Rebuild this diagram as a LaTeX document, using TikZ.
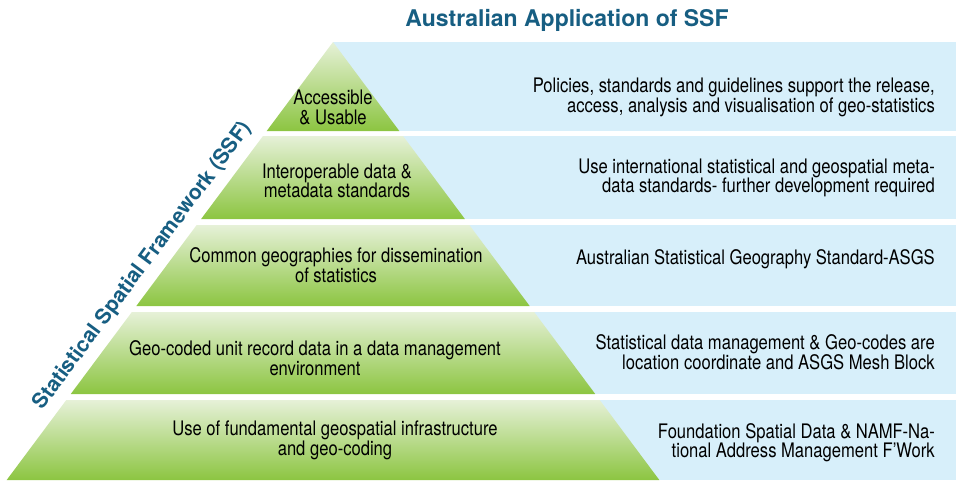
\documentclass[tikz,border=0pt]{standalone}
\usepackage{fontspec}
\setmainfont{TeX Gyre Heros}[FakeStretch=0.83]
\newfontfamily\headfont{TeX Gyre Heros}

\definecolor{ssfblue}{HTML}{D7EFFA}
\definecolor{ssfgreentop}{HTML}{E6F1D8}
\definecolor{ssfgreenbot}{HTML}{8CC541}
\definecolor{ssftitle}{HTML}{175E82}

% left and right edge of the pyramid at height #1
\newcommand{\pyrleft}[1]{333-0.745*(#1-42)}
\newcommand{\pyrright}[1]{333+0.745*(#1-42)}

\tikzset{
  band/.style={fill=ssfblue, draw=none},
  level/.style={top color=ssfgreentop, bottom color=ssfgreenbot, draw=none},
  leveltext/.style={align=center, inner sep=0pt, font=\fontsize{20}{19.5}\selectfont},
  bandtext/.style={align=right, anchor=east, inner sep=0pt, font=\fontsize{20}{19.5}\selectfont},
  headtext/.style={inner sep=0pt, text=ssftitle, font=\headfont\bfseries\fontsize{21}{24}\selectfont}
}

\begin{document}
\begin{tikzpicture}[x=1pt, y=-1pt]
        \useasboundingbox (0,0) rectangle (956,480);

        % blue bands
        \fill[band] (333,42)  rectangle (956,131);
        \fill[band] (333,136) rectangle (956,219);
        \fill[band] (333,225) rectangle (956,306);
        \fill[band] (333,312) rectangle (956,394);
        \fill[band] (333,400) rectangle (956,480);

        % pyramid levels
        \shade[level] (333,42) -- ({\pyrright{131}},131) -- ({\pyrleft{131}},131) -- cycle;
        \shade[level] ({\pyrleft{136}},136) -- ({\pyrright{136}},136) -- ({\pyrright{219}},219) -- ({\pyrleft{219}},219) -- cycle;
        \shade[level] ({\pyrleft{225}},225) -- ({\pyrright{225}},225) -- ({\pyrright{306}},306) -- ({\pyrleft{306}},306) -- cycle;
        \shade[level] ({\pyrleft{312}},312) -- ({\pyrright{312}},312) -- ({\pyrright{394}},394) -- ({\pyrleft{394}},394) -- cycle;
        \shade[level] ({\pyrleft{400}},400) -- ({\pyrright{400}},400) -- ({\pyrright{480}},480) -- ({\pyrleft{480}},480) -- cycle;

        \begin{scope}[every node/.style={leveltext}]
          \node (access)  at (333,107.5) {Accessible\\\& Usable};
          \node (interop) at (337,181)   {Interoperable data \&\\metadata standards};
          \node (geog)    at (336,265)   {Common geographies for dissemination\\of statistics};
          \node (unitrec) at (315,358)   {Geo-coded unit record data in a data management\\environment};
          \node (infra)   at (335,440.5) {Use of fundamental geospatial infrastructure\\and geo-coding};
        \end{scope}

        \begin{scope}[every node/.style={bandtext}]
          \node (policies) at (935,97.5)  {Policies, standards and guidelines support the release,\\access, analysis and visualisation of geo-statistics};
          \node (intstd)   at (935,178)   {Use international statistical and geospatial meta-\\data standards- further development required};
          \node (asgs)     at (935,259)   {Australian Statistical Geography Standard-ASGS};
          \node (geocodes) at (935,352)   {Statistical data management \& Geo-codes are\\location coordinate and ASGS Mesh Block};
          \node (namf)     at (935,442.5) {Foundation Spatial Data \& NAMF-Na-\\tional Address Management F'Work};
        \end{scope}

        \begin{scope}[every node/.style={headtext}]
          \node[font=\headfont\bfseries\fontsize{23}{26}\selectfont] (title) at (567,20) {Australian Application of SSF};
          \node[rotate=53.5] (ssf) at (143,266) {Statistical Spatial Framework (SSF)};
        \end{scope}

      \end{tikzpicture}
\end{document}
